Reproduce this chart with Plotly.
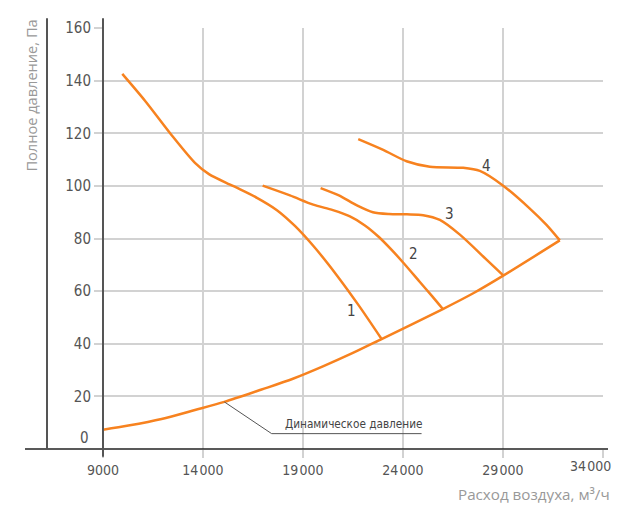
import plotly.graph_objects as go

# ---- data ----
x_ticks = [9000, 14000, 19000, 24000, 29000, 34000]
x_tick_labels = ["9000", "14\u200a000", "19\u200a000", "24\u200a000", "29\u200a000", ""]
last_x_tick = 34000
last_x_label = "34\u200a000"
y_ticks = [20, 40, 60, 80, 100, 120, 140, 160]
y_tick_labels = ["20", "40", "60", "80", "100", "120", "140", "160"]

curve1_x = [9965, 11100, 12435, 13600, 14300, 15500, 16700, 17700, 18600, 19600, 20700, 21800, 22935]
curve1_y = [142.6, 132.4, 119.3, 108.8, 104.5, 100.0, 95.5, 90.8, 84.8, 76.5, 66.0, 54.5, 41.8]

curve2_x = [16985, 18350, 19515, 20500, 21350, 22100, 22800, 23450, 24000, 24850, 25450, 26000]
curve2_y = [100.1, 96.4, 92.9, 90.8, 88.4, 85.0, 80.6, 75.6, 71.0, 63.5, 58.2, 53.2]

curve3_x = [19885, 20800, 21700, 22500, 23300, 24200, 25015, 25850, 26850, 28183, 29017]
curve3_y = [99.2, 96.4, 92.6, 90.0, 89.3, 89.2, 88.9, 87.1, 81.5, 72.0, 66.0]

curve4_x = [21767, 23017, 24183, 25350, 27017, 27850, 29017, 30350, 31183, 31850]
curve4_y = [117.8, 113.7, 109.4, 107.3, 106.9, 105.7, 100.1, 91.4, 85.2, 79.3]

dyn_x = [9000, 10270, 11930, 13600, 15070, 16930, 18500, 20000, 21500, 22935, 26000, 27520, 29020, 31850]
dyn_y = [7.3, 8.9, 11.4, 14.8, 17.9, 22.6, 26.7, 31.4, 36.5, 41.8, 53.2, 59.2, 65.9, 79.3]

curve_labels = ["1", "2", "3", "4"]
label_x = [21435, 24517, 26317, 28183]
label_y = [52.4, 74.0, 89.2, 107.6]

dyn_label = "Динамическое давление"
leader_x = [15070, 17435, 24935]
leader_y = [17.9, 5.84, 5.84]

x_title = "Расход воздуха, м³/ч"
y_title = "Полное давление, Па"

# ---- styles ----
ORANGE = "#F7821F"
GRID = "#d2d2d2"
NARROW = "Liberation Sans Narrow, DejaVu Sans Condensed, Roboto Condensed, Roboto, sans-serif"
LIGHT = "Open Sans, Noto Sans, sans-serif"

fig = go.Figure()

for cx, cy in [(dyn_x, dyn_y), (curve1_x, curve1_y), (curve2_x, curve2_y),
               (curve3_x, curve3_y), (curve4_x, curve4_y)]:
    fig.add_trace(go.Scatter(
        x=cx, y=cy, mode="lines",
        line=dict(color=ORANGE, width=2.5, shape="spline", smoothing=0.8),
        hoverinfo="skip", showlegend=False))

fig.add_trace(go.Scatter(
    x=leader_x, y=leader_y, mode="lines",
    line=dict(color="#555555", width=1), hoverinfo="skip", showlegend=False))

annotations = []
for t, ax, ay in zip(curve_labels, label_x, label_y):
    annotations.append(dict(x=ax, y=ay, xref="x", yref="y", text=t, showarrow=False,
                            font=dict(family=NARROW, size=15, color="#444444")))
annotations.append(dict(x=18000, y=9.6, xref="x", yref="y", text=dyn_label, showarrow=False,
                        xanchor="left", yanchor="middle",
                        font=dict(family=NARROW, size=11.7, color="#444444")))
annotations.append(dict(x=0, y=4.1, xref="paper", yref="y", text="0", showarrow=False,
                        xanchor="right", yanchor="middle", xshift=-12,
                        font=dict(family=NARROW, size=15, color="#555555")))
annotations.append(dict(x=last_x_tick, y=-0.0395, xref="x", yref="paper", text=last_x_label,
                        showarrow=False, xanchor="right", yanchor="middle", xshift=10,
                        font=dict(family=NARROW, size=14, color="#555555")))
annotations.append(dict(x=1, y=-0.107, xref="paper", yref="paper", text=x_title, showarrow=False,
                        xanchor="right", yanchor="middle", xshift=9,
                        font=dict(family=LIGHT, size=15.2, color="#999999")))
annotations.append(dict(x=-0.144, y=0.8395, xref="paper", yref="paper", text=y_title, showarrow=False,
                        xanchor="center", yanchor="middle", textangle=-90,
                        font=dict(family=LIGHT, size=14.6, color="#999999")))

shapes = [
    dict(type="line", xref="paper", yref="paper", x0=-0.156, x1=1.01, y0=0, y1=0,
         line=dict(color="#222222", width=1.5)),
    dict(type="line", xref="paper", yref="paper", x0=0, x1=0, y0=-0.0186, y1=1.0233,
         line=dict(color="#555555", width=2)),
    dict(type="line", xref="paper", yref="paper", x0=-0.112, x1=-0.112, y0=0, y1=1.0233,
         line=dict(color="#555555", width=2)),
]

fig.update_layout(
    width=613, height=495,
    margin=dict(l=95, r=18, t=11, b=54),
    plot_bgcolor="white", paper_bgcolor="white",
    showlegend=False,
    annotations=annotations,
    shapes=shapes,
    xaxis=dict(range=[9000, 34010], tickvals=x_ticks, ticktext=x_tick_labels,
               showgrid=True, gridcolor=GRID, gridwidth=1.5,
               ticks="outside", ticklen=8, tickcolor=GRID, tickwidth=1.5,
               showline=False, zeroline=False,
               tickfont=dict(family=NARROW, size=14, color="#555555")),
    yaxis=dict(range=[0, 160.05], tickvals=y_ticks, ticktext=y_tick_labels,
               showgrid=True, gridcolor=GRID, gridwidth=1.5,
               ticks="outside", ticklen=8, tickcolor=GRID, tickwidth=1.5,
               showline=False, zeroline=False,
               tickfont=dict(family=NARROW, size=15, color="#555555")),
)

fig.write_html("out.html")
